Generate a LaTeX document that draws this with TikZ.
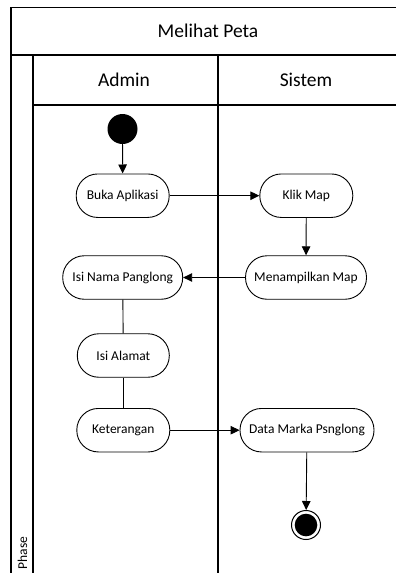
\documentclass[tikz,border=0pt]{standalone}
\usepackage{fontspec}
\setmainfont{Carlito}
\usetikzlibrary{arrows.meta}
\begin{document}
\begin{tikzpicture}[x=1pt,y=-1pt,
  frame/.style={line width=1.6pt},
  lane/.style={line width=1.2pt},
  act/.style={draw, line width=0.9pt, rounded corners=21.5pt, minimum height=43.5pt,
    inner xsep=0pt, font=\fontsize{13.5}{16}\selectfont},
  flow/.style={line width=0.9pt, -{Triangle[length=9pt,width=8.5pt]}},
  link/.style={line width=0.9pt},
  hdr/.style={font=\fontsize{19.5}{23}\selectfont}
]
\useasboundingbox (0,0) rectangle (396,573);
\begin{scope}
\clip (0,0) rectangle (396,573);
% swimlane frame
\draw[frame] (11,600) -- (11,7.5) -- (420,7.5);
\draw[frame] (11,55) -- (420,55);
\draw[frame] (33,600) -- (33,55);
\draw[frame] (33,105) -- (420,105);
\draw[lane] (218,55) -- (218,600);
\end{scope}

% headers
\node[hdr] (title) at (208,31) {Melihat Peta};
\node[hdr] (admin) at (124,80) {Admin};
\node[hdr] (sistem) at (306,80) {Sistem};
\node[font=\fontsize{13.5}{16}\selectfont, rotate=90] (phase) at (22.5,553) {Phase};

% actions
\node[circle, fill=black, minimum size=30pt, inner sep=0pt] (start) at (122.5,129) {};
\node[act, minimum width=93pt] (buka) at (122.7,195.7) {Buka Aplikasi};
\node[act, minimum width=93pt] (klik) at (306.3,195.7) {Klik Map};
\node[act, minimum width=121pt] (tampil) at (306,277.5) {Menampilkan Map};
\node[act, minimum width=120pt] (nama) at (122.7,277.5) {Isi Nama Panglong};
\node[act, minimum width=92pt] (alamat) at (123.3,355.5) {Isi Alamat};
\node[act, minimum width=93pt] (ket) at (123.3,430.2) {Keterangan};
\node[act, minimum width=134pt] (data) at (307,430.2) {Data Marka Psnglong};
\node[circle, draw, line width=1pt, minimum size=29pt, inner sep=0pt,
  path picture={\fill (path picture bounding box.center) circle (11.3pt);}] (end) at (306,525) {};

% connectors
\draw[flow] (start) -- (buka);
\draw[flow] (buka) -- (klik);
\draw[flow] (klik) -- (tampil);
\draw[flow] (tampil) -- (nama);
\draw[link] (nama) -- (alamat);
\draw[link] (alamat) -- (ket);
\draw[flow] (ket) -- (data);
\draw[flow] (data) -- (end);
\end{tikzpicture}
\end{document}
